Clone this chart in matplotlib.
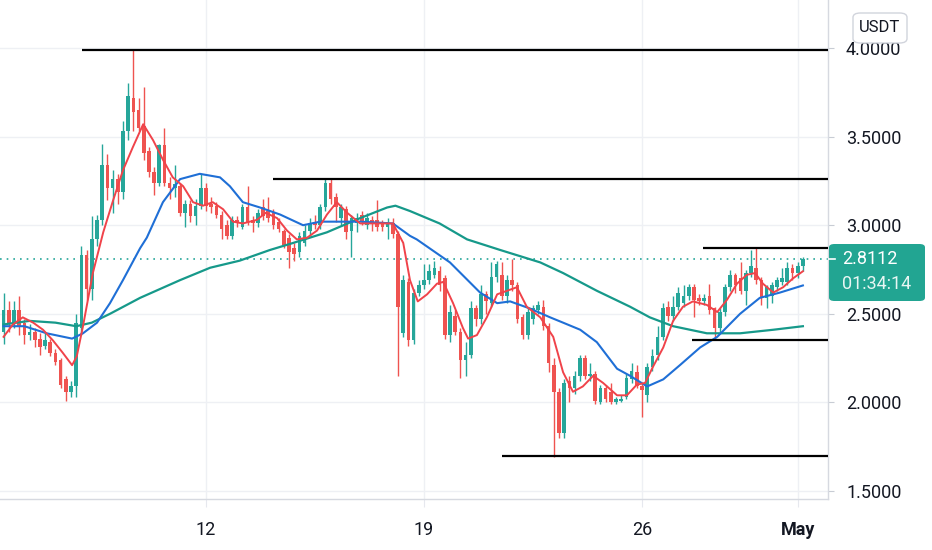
import numpy as np
import matplotlib.pyplot as plt
from matplotlib.patches import FancyBboxPatch
from matplotlib.lines import Line2D

# 4h candles (index 0 = first visible candle)
opens = [2.40, 2.52, 2.45, 2.52, 2.45, 2.38, 2.40, 2.36, 2.32, 2.34,
         2.28, 2.24, 2.13, 2.06, 2.09, 2.42, 2.83, 2.64, 2.92, 3.03,
         3.34, 3.21, 3.26, 3.19, 3.53, 3.72, 3.65, 3.56, 3.42, 3.30,
         3.24, 3.45, 3.24, 3.21, 3.22, 3.07, 3.12, 3.05, 3.11, 3.21,
         3.12, 3.11, 3.06, 3.00, 2.94, 3.03, 2.99, 3.10, 3.03, 3.01,
         3.10, 3.08, 3.07, 3.02, 2.97, 2.93, 2.87, 2.85, 2.90, 2.97,
         3.02, 3.00, 3.10, 3.24, 3.16, 3.04, 3.09, 2.97, 3.01, 3.06,
         3.00, 3.03, 3.03, 3.01, 2.99, 3.01, 2.95, 2.39, 2.68, 2.35,
         2.62, 2.66, 2.69, 2.72, 2.74, 2.70, 2.38, 2.49, 2.40, 2.24,
         2.27, 2.53, 2.47, 2.61, 2.56, 2.71, 2.72, 2.60, 2.69, 2.66,
         2.48, 2.38, 2.47, 2.52, 2.54, 2.43, 2.21, 2.06, 1.83, 2.12,
         2.08, 2.15, 2.25, 2.15, 2.16, 2.00, 2.08, 2.06, 2.00, 2.01,
         2.03, 2.13, 2.17, 2.09, 2.04, 2.20, 2.27, 2.37, 2.54, 2.49,
         2.54, 2.56, 2.60, 2.65, 2.59, 2.57, 2.60, 2.53, 2.42, 2.51,
         2.65, 2.72, 2.70, 2.63, 2.73, 2.76, 2.69, 2.59, 2.60, 2.65,
         2.68, 2.68, 2.76, 2.73, 2.77]
highs = [2.62, 2.57, 2.57, 2.60, 2.47, 2.44, 2.42, 2.39, 2.40, 2.36,
         2.30, 2.25, 2.15, 2.12, 2.50, 2.88, 2.86, 3.05, 3.06, 3.46,
         3.40, 3.31, 3.29, 3.59, 3.80, 3.99, 3.72, 3.78, 3.44, 3.33,
         3.46, 3.55, 3.27, 3.34, 3.24, 3.14, 3.14, 3.15, 3.29, 3.24,
         3.16, 3.13, 3.08, 3.03, 3.05, 3.05, 3.12, 3.22, 3.05, 3.09,
         3.15, 3.16, 3.09, 3.04, 2.98, 2.95, 2.90, 2.96, 3.00, 3.04,
         3.06, 3.12, 3.26, 3.26, 3.18, 3.12, 3.11, 3.06, 3.07, 3.08,
         3.07, 3.05, 3.14, 3.03, 3.04, 3.04, 2.97, 2.72, 2.70, 2.64,
         2.69, 2.78, 2.78, 2.80, 2.77, 2.72, 2.55, 2.52, 2.42, 2.34,
         2.57, 2.55, 2.66, 2.63, 2.79, 2.80, 2.79, 2.72, 2.81, 2.68,
         2.50, 2.54, 2.55, 2.57, 2.58, 2.45, 2.25, 2.08, 2.13, 2.15,
         2.18, 2.27, 2.27, 2.22, 2.18, 2.10, 2.10, 2.11, 2.03, 2.04,
         2.16, 2.22, 2.21, 2.11, 2.22, 2.30, 2.43, 2.56, 2.57, 2.60,
         2.65, 2.66, 2.67, 2.67, 2.61, 2.61, 2.67, 2.54, 2.53, 2.67,
         2.75, 2.73, 2.79, 2.75, 2.86, 2.87, 2.71, 2.66, 2.68, 2.71,
         2.76, 2.79, 2.78, 2.79, 2.82]
lows = [2.33, 2.40, 2.42, 2.38, 2.33, 2.35, 2.31, 2.27, 2.30, 2.26,
        2.21, 2.08, 2.01, 2.03, 2.03, 2.38, 2.58, 2.58, 2.88, 3.00,
        3.14, 3.07, 3.12, 3.15, 3.48, 3.53, 3.53, 3.37, 3.27, 3.17,
        3.22, 3.22, 3.15, 3.16, 3.05, 2.99, 3.02, 3.00, 3.09, 3.08,
        3.07, 3.04, 2.92, 2.92, 2.92, 2.99, 2.98, 3.00, 2.96, 2.99,
        3.03, 3.02, 2.98, 2.96, 2.87, 2.76, 2.80, 2.82, 2.88, 2.94,
        2.98, 2.98, 3.08, 3.12, 3.02, 3.00, 2.92, 2.82, 2.96, 3.00,
        2.98, 2.97, 2.97, 2.97, 2.92, 2.93, 2.15, 2.37, 2.32, 2.33,
        2.60, 2.64, 2.67, 2.70, 2.63, 2.36, 2.34, 2.38, 2.14, 2.15,
        2.25, 2.43, 2.44, 2.50, 2.54, 2.68, 2.58, 2.56, 2.63, 2.45,
        2.36, 2.36, 2.44, 2.50, 2.41, 2.17, 1.69, 1.80, 1.80, 2.00,
        2.05, 2.12, 2.13, 2.12, 1.99, 1.99, 2.00, 1.99, 1.99, 2.00,
        2.02, 2.11, 2.08, 1.92, 2.00, 2.18, 2.24, 2.35, 2.46, 2.46,
        2.52, 2.54, 2.58, 2.48, 2.55, 2.55, 2.50, 2.36, 2.40, 2.49,
        2.63, 2.62, 2.61, 2.55, 2.71, 2.67, 2.55, 2.53, 2.56, 2.63,
        2.66, 2.66, 2.69, 2.70, 2.74]
closes = [2.52, 2.45, 2.52, 2.43, 2.38, 2.40, 2.35, 2.31, 2.35, 2.28,
          2.23, 2.10, 2.06, 2.09, 2.45, 2.83, 2.64, 2.92, 3.03, 3.34,
          3.21, 3.26, 3.19, 3.53, 3.73, 3.64, 3.55, 3.41, 3.30, 3.24,
          3.45, 3.24, 3.21, 3.23, 3.07, 3.12, 3.05, 3.11, 3.21, 3.11,
          3.10, 3.06, 2.98, 2.94, 3.03, 3.01, 3.10, 3.02, 3.01, 3.07,
          3.05, 3.04, 3.00, 2.98, 2.89, 2.85, 2.84, 2.94, 2.97, 3.01,
          3.00, 3.10, 3.24, 3.15, 3.10, 3.10, 2.96, 3.04, 3.04, 3.02,
          3.04, 3.01, 2.99, 2.99, 3.02, 2.95, 2.54, 2.69, 2.35, 2.62,
          2.66, 2.69, 2.74, 2.76, 2.66, 2.38, 2.51, 2.40, 2.24, 2.27,
          2.53, 2.47, 2.61, 2.57, 2.71, 2.78, 2.60, 2.69, 2.66, 2.47,
          2.38, 2.51, 2.53, 2.55, 2.43, 2.22, 2.06, 1.83, 2.11, 2.08,
          2.15, 2.25, 2.15, 2.16, 2.01, 2.08, 2.02, 2.00, 2.02, 2.02,
          2.14, 2.18, 2.09, 2.07, 2.20, 2.26, 2.37, 2.53, 2.49, 2.54,
          2.62, 2.60, 2.65, 2.58, 2.57, 2.59, 2.52, 2.42, 2.51, 2.65,
          2.72, 2.66, 2.63, 2.73, 2.77, 2.69, 2.59, 2.65, 2.66, 2.69,
          2.70, 2.76, 2.73, 2.77, 2.8112]

# moving averages, sampled off the chart (candle index, price)
fast_x = [0, 1.8, 3.7, 5.7, 7.6, 9.5, 11.4, 13.2, 14.1, 15.3, 17.2, 19.2,
          21.1, 23.0, 24.9, 26.9, 28.8, 30.7, 32.6, 34.6, 36.5, 38.4, 40.3,
          42.3, 44.2, 46.1, 48.8, 50.5, 52.7, 54.6, 56.5, 58.5, 60.4, 62.3,
          64.2, 66.2, 68.7, 72.0, 75.0, 77.0, 78.3, 79.8, 81.6, 83.5, 84.7,
          86.6, 88.5, 89.5, 91.2, 93.1, 95.1, 97.0, 98.9, 100.8, 103.4,
          105.9, 107.8, 109.7, 111.6, 113.6, 115.5, 118.2, 120.1, 122.0,
          123.6, 125.1, 127.1, 129.0, 130.9, 132.8, 135.5, 137.5, 139.4,
          141.3, 143.2, 144.8, 146.3, 148.3, 150.2, 152.1, 154.0]
fast_y = [2.37, 2.44, 2.48, 2.45, 2.41, 2.35, 2.28, 2.21, 2.26, 2.43, 2.73,
          2.96, 3.14, 3.31, 3.44, 3.57, 3.48, 3.37, 3.27, 3.22, 3.13, 3.11,
          3.13, 3.09, 3.02, 3.01, 3.03, 3.07, 3.04, 2.97, 2.92, 2.93, 2.97,
          3.06, 3.13, 3.07, 3.01, 3.01, 3.01, 2.90, 2.69, 2.57, 2.61, 2.67,
          2.68, 2.56, 2.42, 2.36, 2.38, 2.48, 2.61, 2.63, 2.65, 2.54, 2.48,
          2.37, 2.17, 2.06, 2.09, 2.15, 2.11, 2.04, 2.04, 2.10, 2.11, 2.20,
          2.31, 2.46, 2.54, 2.57, 2.55, 2.51, 2.58, 2.67, 2.72, 2.73, 2.67,
          2.62, 2.65, 2.70, 2.74]

mid_x = [0, 4, 8.3, 13.2, 15.3, 18, 20.5, 23, 26.3, 27.6, 30.7, 34, 37.8,
         41.7, 43.6, 46.1, 49.4, 53.3, 57.7, 61, 65.4, 68.7, 75, 78.3, 79.6,
         86, 91.8, 95.1, 97.6, 101.4, 105.3, 107.8, 111.1, 114.3, 118.2,
         120.7, 124, 127.1, 130.3, 134.2, 137.5, 141.9, 145.7, 149.6, 154]
mid_y = [2.43, 2.43, 2.39, 2.36, 2.39, 2.45, 2.56, 2.69, 2.87, 2.93, 3.13,
         3.26, 3.29, 3.27, 3.22, 3.13, 3.10, 3.06, 3.00, 3.02, 3.02, 3.02,
         3.01, 2.94, 2.92, 2.79, 2.62, 2.56, 2.57, 2.53, 2.48, 2.45, 2.41,
         2.34, 2.19, 2.15, 2.09, 2.13, 2.21, 2.31, 2.37, 2.50, 2.59, 2.62,
         2.66]

slow_x = [0, 5, 10, 14, 17, 20.5, 26.3, 34, 39.8, 45.5, 51.3, 55.8, 62.3,
          68.7, 73.9, 75.5, 78.3, 84, 89.3, 95.7, 103.4, 107.8, 114.3,
          120.7, 124.5, 129, 135.5, 141.9, 148.3, 154]
slow_y = [2.44, 2.46, 2.45, 2.43, 2.45, 2.50, 2.59, 2.69, 2.76, 2.80, 2.86,
          2.90, 2.96, 3.04, 3.10, 3.11, 3.08, 3.01, 2.92, 2.86, 2.79, 2.73,
          2.63, 2.54, 2.48, 2.43, 2.39, 2.39, 2.41, 2.43]

# drawn support / resistance levels
levels = [3.99, 3.26, 2.87, 2.35, 1.70]
level_start = [15.1, 51.9, 134.8, 132.6, 96.0]

day_idx = [39, 81, 123, 153]
day_labels = ['12', '19', '26', 'May']
price_ticks = [1.5, 2.0, 2.5, 3.0, 3.5, 4.0]
last_price = 2.8112
countdown = '01:34:14'

plt.rcParams['font.family'] = ['Roboto', 'DejaVu Sans']
up = '#26a69a'
down = '#ef5350'
txt = '#131722'

fig = plt.figure(figsize=(9.32, 5.5), dpi=100)
ax = fig.add_axes([0, 1 - 499 / 550, 828 / 932, 499 / 550])
xlim = (-0.69, 158.84)
ax.set_xlim(*xlim)
ax.set_ylim(1.4548, 4.271)

o = np.array(opens)
h = np.array(highs)
l = np.array(lows)
c = np.array(closes)
x = np.arange(len(o))
col = np.where(c >= o, up, down)

ax.vlines(x, l, h, colors=col, lw=1, zorder=2)
ax.bar(x, np.maximum(np.abs(c - o), 0.006), bottom=np.minimum(o, c),
       width=0.7, color=col, zorder=3)

ax.plot(slow_x, slow_y, color='#16998a', lw=1.6, zorder=4)
ax.plot(mid_x, mid_y, color='#1f6fd6', lw=1.5, zorder=4)
ax.plot(fast_x, fast_y, color='#f0434a', lw=1.4, zorder=5)

ax.hlines(levels, level_start, xlim[1], colors='black', lw=1.6, zorder=6)
ax.axhline(last_price, color=up, ls=(0, (1, 3)), lw=1.2, zorder=1)

ax.set_yticks(price_ticks)
ax.set_yticklabels([f'{v:.4f}' for v in price_ticks])
ax.yaxis.tick_right()
ax.set_xticks(day_idx)
ax.set_xticklabels(day_labels)
ax.get_xticklabels()[-1].set_fontweight('bold')
ax.tick_params(axis='y', length=4, color='#c8ccd4', pad=9,
               labelsize=13, labelcolor=txt)
ax.tick_params(axis='x', length=6, color='#e6e8ee', pad=10,
               labelsize=13, labelcolor=txt)
ax.grid(True, color='#eef0f4', lw=1, zorder=0)
ax.set_axisbelow(True)
for s in ['left', 'top']:
    ax.spines[s].set_visible(False)
for s in ['right', 'bottom']:
    ax.spines[s].set_color('#d6d9e0')
    ax.spines[s].set_linewidth(1)

# last price tag on the scale
fig.patches.append(FancyBboxPatch((829 / 932, 1 - 301 / 550), 96 / 932, 57 / 550,
                                  boxstyle='round,pad=0,rounding_size=0.006',
                                  transform=fig.transFigure, fc='#22a592',
                                  ec='none', zorder=10))
fig.lines.append(Line2D([829 / 932, 835 / 932], [1 - 259 / 550, 1 - 259 / 550],
                        transform=fig.transFigure, color='white', lw=1.2,
                        zorder=11))
fig.text(842 / 932, 1 - 259 / 550, f'{last_price:.4f}', color='white',
         fontsize=13, va='center', ha='left', zorder=12)
fig.text(842 / 932, 1 - 284 / 550, countdown, color='#e8f6f3',
         fontsize=13, va='center', ha='left', zorder=12)

# currency button
fig.patches.append(FancyBboxPatch((853 / 932, 1 - 43 / 550), 54 / 932, 30 / 550,
                                  boxstyle='round,pad=0,rounding_size=0.008',
                                  transform=fig.transFigure, fc='white',
                                  ec='#d1d4dc', lw=1, zorder=10))
fig.text(880 / 932, 1 - 28 / 550, 'USDT', color=txt, fontsize=12,
         va='center', ha='center', zorder=12)

fig.savefig('out.png', dpi=100)
